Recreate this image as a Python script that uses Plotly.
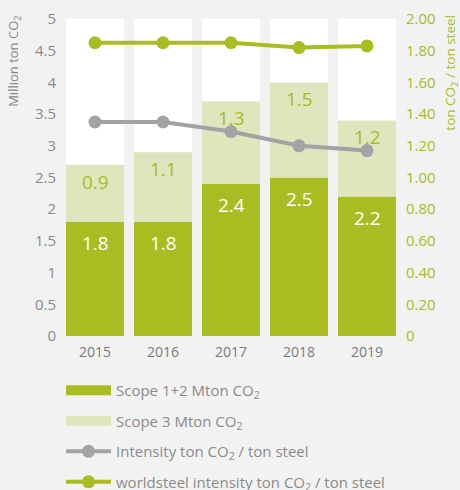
import plotly.graph_objects as go

years = [2015, 2016, 2017, 2018, 2019]
scope12 = [1.8, 1.8, 2.4, 2.5, 2.2]
scope3 = [0.9, 1.1, 1.3, 1.5, 1.2]
intensity = [1.35, 1.35, 1.29, 1.20, 1.17]
worldsteel = [1.85, 1.85, 1.85, 1.82, 1.83]
y_max = 5
left_ticks = [0, 0.5, 1, 1.5, 2, 2.5, 3, 3.5, 4, 4.5, 5]
right_ticks = [0, 0.2, 0.4, 0.6, 0.8, 1.0, 1.2, 1.4, 1.6, 1.8, 2.0]
right_ticktext = ["0", "0.20", "0.40", "0.60", "0.80", "1.00", "1.20", "1.40", "1.60", "1.80", "2.00"]

DARK = "#a9bc22"
LIGHT = "#dfe5bc"
GRAY = "#a3a3a5"
BG = "#f2f2f2"
TXT = "#8a8a8a"
FONT = "Open Sans"

totals = [a + b for a, b in zip(scope12, scope3)]

fig = go.Figure()
# white column behind each bar
fig.add_trace(go.Bar(x=years, y=[y_max] * len(years), marker_color="white",
                     marker_line_width=0, showlegend=False, hoverinfo="skip"))
fig.add_trace(go.Bar(x=years, y=scope12, marker_color=DARK, marker_line_width=0,
                     showlegend=False, name="Scope 1+2 Mton CO<sub>2</sub>"))
fig.add_trace(go.Bar(x=years, y=scope3, base=scope12, marker_color=LIGHT, marker_line_width=0,
                     showlegend=False, name="Scope 3 Mton CO<sub>2</sub>"))
fig.add_trace(go.Scatter(x=years, y=intensity, yaxis="y2", mode="lines+markers",
                         line=dict(color=GRAY, width=4), marker=dict(size=13, color=GRAY),
                         showlegend=False))
fig.add_trace(go.Scatter(x=years, y=worldsteel, yaxis="y2", mode="lines+markers",
                         line=dict(color=DARK, width=4), marker=dict(size=13, color=DARK),
                         showlegend=False))

# legend entries
fig.add_trace(go.Scatter(x=[None], y=[None], mode="lines", line=dict(color=DARK, width=12),
                         name="Scope 1+2 Mton CO<sub>2</sub>", legendgroup="a"))
fig.add_trace(go.Scatter(x=[None], y=[None], mode="lines", line=dict(color=LIGHT, width=12),
                         name="Scope 3 Mton CO<sub>2</sub>", legendgroup="b"))
fig.add_trace(go.Scatter(x=[None], y=[None], mode="lines+markers", line=dict(color=GRAY, width=4),
                         marker=dict(size=13, color=GRAY),
                         name="Intensity ton CO<sub>2</sub> / ton steel", legendgroup="c"))
fig.add_trace(go.Scatter(x=[None], y=[None], mode="lines+markers", line=dict(color=DARK, width=4),
                         marker=dict(size=13, color=DARK),
                         name="worldsteel intensity ton CO<sub>2</sub> / ton steel", legendgroup="d"))

annotations = []
for yr, v in zip(years, scope12):
    annotations.append(dict(x=yr, y=v, xref="x", yref="y", text=f"{v:.1f}", showarrow=False,
                            yanchor="top", yshift=-6, font=dict(family=FONT, size=19, color="white")))
for yr, v, t in zip(years, scope3, totals):
    annotations.append(dict(x=yr, y=t, xref="x", yref="y", text=f"{v:.1f}", showarrow=False,
                            yanchor="top", yshift=-2, font=dict(family=FONT, size=19, color=DARK)))
annotations.append(dict(x=-0.138, y=1.015, xref="paper", yref="paper", text="Million ton CO<sub>2</sub>",
                        textangle=-90, showarrow=False, xanchor="center", yanchor="top",
                        font=dict(family=FONT, size=13, color=TXT)))
annotations.append(dict(x=1.147, y=1.02, xref="paper", yref="paper", text="ton CO<sub>2</sub> / ton steel",
                        textangle=-90, showarrow=False, xanchor="center", yanchor="top",
                        font=dict(family=FONT, size=13.5, color=DARK)))

fig.update_layout(
    width=460, height=490,
    margin=dict(l=61, r=59, t=19, b=154, autoexpand=False),
    paper_bgcolor=BG, plot_bgcolor=BG,
    barmode="overlay", bargap=0.147,
    font=dict(family=FONT, color=TXT),
    xaxis=dict(type="linear", range=[2014.5, 2019.5], tickvals=years, showgrid=False,
               zeroline=False, showline=False,
               tickfont=dict(size=14, color="#7a7a7a"), ticks="", ticklabelstandoff=6),
    yaxis=dict(range=[0, 5], tickvals=left_ticks, showgrid=False, zeroline=False,
               tickfont=dict(size=15, color=TXT), ticks="", ticklabelstandoff=4),
    yaxis2=dict(range=[0, 2], overlaying="y", side="right", tickvals=right_ticks,
                ticktext=right_ticktext, showgrid=False, zeroline=False,
                tickfont=dict(size=15, color=DARK), ticks="", ticklabelstandoff=4),
    legend=dict(orientation="v", x=0.0, xanchor="left", y=-0.12, yanchor="top",
                font=dict(family=FONT, size=15, color=TXT), tracegroupgap=8,
                itemwidth=45, bgcolor="rgba(0,0,0,0)"),
    annotations=annotations,
    showlegend=True,
)

fig.write_html(
    "out.html",
    config={"displayModeBar": False},
    post_script="document.body.style.margin='0';document.body.style.background='#f2f2f2';",
)
